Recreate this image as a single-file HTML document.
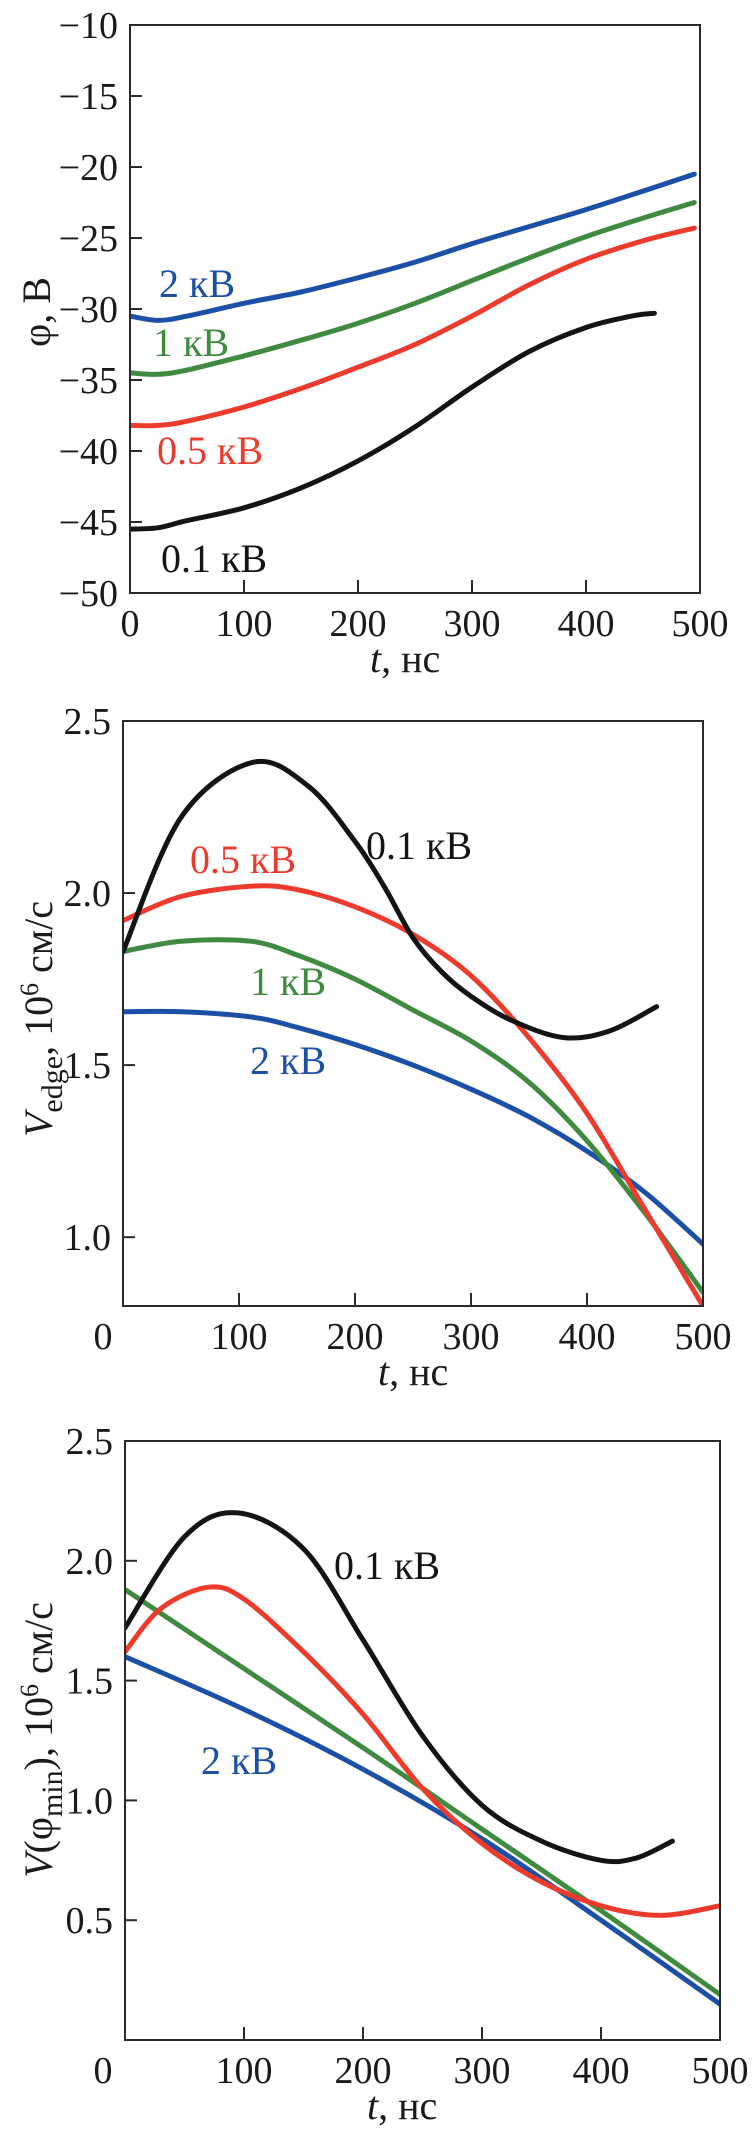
<!DOCTYPE html>
<html><head><meta charset="utf-8"><style>
html,body{margin:0;padding:0;background:#fff;}
svg{display:block;font-family:"Liberation Serif",serif;}
</style></head>
<body>
<svg id="fig" width="752" height="2130" viewBox="0 0 752 2130" xmlns="http://www.w3.org/2000/svg"></svg>
<script>
// ---------- Chart 1: phi vs t ----------
const c1T = [0, 25, 50, 100, 150, 200, 250, 300, 350, 400, 450, 495];
const c1Blue  = [-30.5, -30.8, -30.5, -29.6, -28.8, -27.8, -26.7, -25.4, -24.2, -23.0, -21.7, -20.5];
const c1Green = [-34.5, -34.6, -34.3, -33.3, -32.2, -31.0, -29.6, -28.0, -26.4, -24.9, -23.6, -22.5];
const c1Red   = [-38.2, -38.2, -37.9, -36.9, -35.6, -34.1, -32.5, -30.5, -28.3, -26.5, -25.2, -24.3];
const c1BlackT = [0, 25, 50, 100, 150, 200, 250, 300, 350, 400, 440, 460];
const c1Black = [-45.5, -45.4, -44.9, -44.0, -42.6, -40.7, -38.3, -35.5, -33.0, -31.3, -30.5, -30.3];
const c1YTicks = [-10, -15, -20, -25, -30, -35, -40, -45, -50];
const c1XTicks = [0, 100, 200, 300, 400, 500];

// ---------- Chart 2: V_edge vs t ----------
const c2BlackT = [0, 50, 112, 160, 200, 225, 250, 275, 300, 335, 380, 420, 460];
const c2Black = [1.83, 2.22, 2.38, 2.31, 2.15, 2.02, 1.87, 1.77, 1.70, 1.63, 1.58, 1.60, 1.67];
const c2T = [0, 50, 110, 150, 200, 250, 300, 350, 400, 450, 500];
const c2Red   = [1.92, 1.99, 2.02, 2.01, 1.96, 1.88, 1.76, 1.58, 1.36, 1.08, 0.80];
const c2Green = [1.83, 1.86, 1.86, 1.82, 1.75, 1.66, 1.57, 1.45, 1.28, 1.07, 0.84];
const c2Blue  = [1.655, 1.655, 1.64, 1.61, 1.56, 1.50, 1.43, 1.35, 1.25, 1.13, 0.98];
const c2YTicks = [2.5, 2.0, 1.5, 1.0];
const c2XTicks = [0, 100, 200, 300, 400, 500];

// ---------- Chart 3: V(phi_min) vs t ----------
const c3BlackT = [0, 50, 95, 150, 200, 250, 300, 350, 400, 430, 460];
const c3Black = [1.72, 2.10, 2.20, 2.05, 1.67, 1.27, 0.98, 0.83, 0.75, 0.76, 0.83];
const c3RedT = [0, 30, 70, 100, 150, 200, 250, 300, 350, 400, 450, 500];
const c3Red = [1.62, 1.80, 1.89, 1.84, 1.62, 1.36, 1.05, 0.82, 0.66, 0.56, 0.52, 0.56];
const c3LinT = [0, 100, 200, 300, 400, 500];
const c3Green = [1.88, 1.55, 1.22, 0.88, 0.54, 0.19];
const c3Blue  = [1.60, 1.38, 1.13, 0.84, 0.50, 0.15];
const c3YTicks = [2.5, 2.0, 1.5, 1.0, 0.5];
const c3XTicks = [0, 100, 200, 300, 400, 500];

const NS = "http://www.w3.org/2000/svg";
const svg = document.getElementById('fig');
const COL = {black:'#141414', red:'#ec3b2c', green:'#3f8a3f', blue:'#1c4fa6'};

function mk(tag, attrs, parent) {
  const e = document.createElementNS(NS, tag);
  for (const k in attrs) e.setAttribute(k, attrs[k]);
  (parent || svg).appendChild(e);
  return e;
}
function scale(d0, d1, r0, r1) { return v => r0 + (v - d0) * (r1 - r0) / (d1 - d0); }
function smoothPath(pts) {
  let d = 'M' + pts[0][0].toFixed(1) + ',' + pts[0][1].toFixed(1);
  for (let i = 0; i < pts.length - 1; i++) {
    const p0 = pts[i - 1] || pts[i], p1 = pts[i], p2 = pts[i + 1], p3 = pts[i + 2] || p2;
    const c1x = p1[0] + (p2[0] - p0[0]) / 6, c1y = p1[1] + (p2[1] - p0[1]) / 6;
    const c2x = p2[0] - (p3[0] - p1[0]) / 6, c2y = p2[1] - (p3[1] - p1[1]) / 6;
    d += ' C' + c1x.toFixed(1) + ',' + c1y.toFixed(1) + ' ' + c2x.toFixed(1) + ',' + c2y.toFixed(1) + ' ' + p2[0].toFixed(1) + ',' + p2[1].toFixed(1);
  }
  return d;
}

function chart(cfg) {
  const g = mk('g', {});
  
  
  const x = scale(0, 500, cfg.x0, cfg.x1);
  const y = scale(cfg.yMin, cfg.yMax, cfg.yB, cfg.yT);
  const clipId = cfg.name + '-clip';
  const cp = mk('clipPath', {id: clipId}, g);
  mk('rect', {x: cfg.x0, y: cfg.yT, width: cfg.x1 - cfg.x0, height: cfg.yB - cfg.yT}, cp);
  cfg.series.forEach(s => {
    const pts = s.t.map((t, i) => [x(t), y(s.v[i])]);
    const p = mk('path', {d: smoothPath(pts), fill: 'none', stroke: s.color, 'stroke-width': 5, 'stroke-linecap': 'round', 'clip-path': 'url(#' + clipId + ')'}, g);
    
    
  });
  const fr = mk('rect', {x: cfg.x0, y: cfg.yT, width: cfg.x1 - cfg.x0, height: cfg.yB - cfg.yT, fill: 'none', stroke: '#2a2a2a', 'stroke-width': 2}, g);
  
  
  cfg.yTicks.forEach(v => {
    const yy = y(v);
    if (v !== cfg.yMax && v !== cfg.yMin) mk('line', {x1: cfg.x0, x2: cfg.x0 + 12, y1: yy, y2: yy, stroke: '#2a2a2a', 'stroke-width': 2}, g);
    const t = mk('text', {x: cfg.yLabX, y: yy + 13, 'text-anchor': 'end', 'font-size': 38, fill: '#1a1a1a'}, g);
    t.textContent = cfg.fmtY(v);
    
    
  });
  cfg.xTicks.forEach(v => {
    const xx = x(v);
    if (v !== 0 && v !== 500) mk('line', {x1: xx, x2: xx, y1: cfg.yB, y2: cfg.yB - 13, stroke: '#2a2a2a', 'stroke-width': 2}, g);
    let lx = xx;
    if (v === 0 && cfg.zeroX) lx = cfg.zeroX;
    const t = mk('text', {x: lx, y: cfg.yB + 43, 'text-anchor': 'middle', 'font-size': 38, fill: '#1a1a1a'}, g);
    t.textContent = String(v);
    
    
  });
  const xt = mk('text', {x: cfg.xTitleX, y: cfg.yB + 79, 'font-size': 40, fill: '#1a1a1a'}, g);
  xt.innerHTML = '<tspan font-style="italic">t</tspan>, нс';
  
  
  const yt = mk('text', {transform: 'translate(' + cfg.yTitleX + ',' + cfg.yTitleY + ') rotate(-90)', 'text-anchor': 'middle', 'font-size': 40, fill: '#1a1a1a'}, g);
  yt.innerHTML = cfg.yTitle;
  
  
  cfg.labels.forEach(l => {
    const t = mk('text', {x: l.x, y: l.y, 'font-size': 40, fill: l.color}, g);
    t.textContent = l.text;
    
    
  });
}

chart({
  name: 'chart-phi', x0: 130, x1: 700, yT: 25, yB: 593, yMin: -50, yMax: -10,
  yTicks: c1YTicks, xTicks: c1XTicks, yLabX: 118, fmtY: v => '\u2212' + Math.abs(v),
  xTitleX: 370, yTitleX: 50, yTitleY: 312, yTitle: 'φ, В',
  series: [
    {name: 'series-2kv', t: c1T, v: c1Blue, color: COL.blue},
    {name: 'series-1kv', t: c1T, v: c1Green, color: COL.green},
    {name: 'series-0-5kv', t: c1T, v: c1Red, color: COL.red},
    {name: 'series-0-1kv', t: c1BlackT, v: c1Black, color: COL.black}
  ],
  labels: [
    {text: '2 кВ', x: 159, y: 297, color: COL.blue, name: 'label-2kv'},
    {text: '1 кВ', x: 153, y: 356, color: COL.green, name: 'label-1kv'},
    {text: '0.5 кВ', x: 157, y: 464, color: COL.red, name: 'label-0-5kv'},
    {text: '0.1 кВ', x: 161, y: 572, color: COL.black, name: 'label-0-1kv'}
  ]
});

chart({
  name: 'chart-vedge', x0: 123, x1: 703, yT: 721, yB: 1306, yMin: 0.8, yMax: 2.5,
  yTicks: c2YTicks, xTicks: c2XTicks, yLabX: 111, fmtY: v => v.toFixed(1), zeroX: 103,
  xTitleX: 378, yTitleX: 52, yTitleY: 1019,
  yTitle: '<tspan font-style="italic">V</tspan><tspan font-size="30" dy="10">edge</tspan><tspan dy="-10">, 10</tspan><tspan font-size="26" dy="-14">6</tspan><tspan dy="14"> см/с</tspan>',
  series: [
    {name: 'series-2kv', t: c2T, v: c2Blue, color: COL.blue},
    {name: 'series-1kv', t: c2T, v: c2Green, color: COL.green},
    {name: 'series-0-5kv', t: c2T, v: c2Red, color: COL.red},
    {name: 'series-0-1kv', t: c2BlackT, v: c2Black, color: COL.black}
  ],
  labels: [
    {text: '0.1 кВ', x: 366, y: 859, color: COL.black, name: 'label-0-1kv'},
    {text: '0.5 кВ', x: 190, y: 873, color: COL.red, name: 'label-0-5kv'},
    {text: '1 кВ', x: 250, y: 995, color: COL.green, name: 'label-1kv'},
    {text: '2 кВ', x: 250, y: 1074, color: COL.blue, name: 'label-2kv'}
  ]
});

chart({
  name: 'chart-vphimin', x0: 125, x1: 720, yT: 1441, yB: 2040, yMin: 0, yMax: 2.5,
  yTicks: c3YTicks, xTicks: c3XTicks, yLabX: 113, fmtY: v => v.toFixed(1), zeroX: 103,
  xTitleX: 367, yTitleX: 52, yTitleY: 1740,
  yTitle: '<tspan font-style="italic">V</tspan>(φ<tspan font-size="30" dy="10">min</tspan><tspan dy="-10">), 10</tspan><tspan font-size="26" dy="-14">6</tspan><tspan dy="14"> см/с</tspan>',
  series: [
    {name: 'series-2kv', t: c3LinT, v: c3Blue, color: COL.blue},
    {name: 'series-1kv', t: c3LinT, v: c3Green, color: COL.green},
    {name: 'series-0-5kv', t: c3RedT, v: c3Red, color: COL.red},
    {name: 'series-0-1kv', t: c3BlackT, v: c3Black, color: COL.black}
  ],
  labels: [
    {text: '0.1 кВ', x: 334, y: 1579, color: COL.black, name: 'label-0-1kv'},
    {text: '2 кВ', x: 201, y: 1774, color: COL.blue, name: 'label-2kv'}
  ]
});
</script>
</body></html>
